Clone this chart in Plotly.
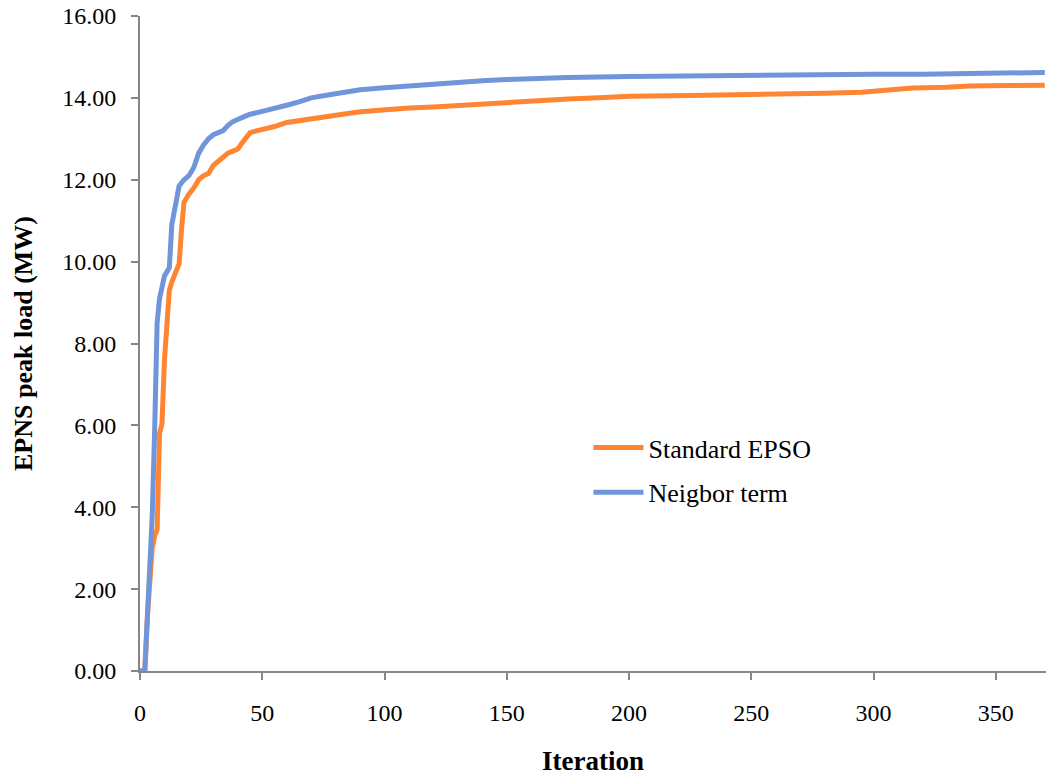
import plotly.graph_objects as go

# Data
iter_neighbor = [0, 1, 2, 3, 4, 5, 6, 7, 8, 9, 10, 11, 12, 13, 14, 15, 16, 18, 20, 22, 24, 26, 28, 30,
                 32, 34, 36, 38, 41, 45, 50, 55, 60, 65, 70, 75, 80, 85, 90, 100, 110, 120, 130, 140,
                 150, 160, 175, 200, 225, 250, 265, 280, 300, 320, 332, 340, 355, 370]
epns_neighbor = [0.0, 0.0, 0.05, 1.3, 2.6, 3.8, 5.9, 8.5, 9.1, 9.45, 9.65, 9.75, 9.85, 10.9, 11.2, 11.45,
                 11.85, 12.0, 12.1, 12.3, 12.65, 12.85, 13.0, 13.1, 13.15, 13.2, 13.33, 13.42, 13.5, 13.6,
                 13.67, 13.76, 13.82, 13.9, 14.0, 14.05, 14.1, 14.15, 14.2, 14.25, 14.3, 14.33, 14.37,
                 14.42, 14.45, 14.48, 14.5, 14.52, 14.54, 14.56, 14.57, 14.58, 14.58, 14.58, 14.59,
                 14.61, 14.61, 14.62]

iter_standard = [0, 1, 2, 3, 4, 5, 6, 7, 8, 9, 10, 11, 12, 13, 14, 15, 16, 17, 18, 20, 22, 24, 26, 28,
                 30, 33, 36, 38, 40, 42, 43, 45, 48, 50, 55, 60, 65, 70, 78, 85, 90, 100, 110, 120, 130,
                 140, 150, 160, 175, 190, 200, 225, 250, 265, 280, 295, 305, 316, 330, 339, 355, 370]
epns_standard = [0.0, 0.0, 0.02, 1.3, 2.4, 3.0, 3.3, 3.45, 5.8, 6.05, 7.6, 8.6, 9.3, 9.5, 9.65, 9.8,
                 9.95, 10.8, 11.45, 11.65, 11.8, 12.0, 12.1, 12.15, 12.35, 12.5, 12.65, 12.7, 12.75,
                 12.92, 13.0, 13.15, 13.2, 13.22, 13.3, 13.4, 13.45, 13.5, 13.55, 13.62, 13.66, 13.72,
                 13.75, 13.78, 13.82, 13.86, 13.9, 13.94, 13.97, 14.01, 14.04, 14.06, 14.07, 14.09,
                 14.11, 14.14, 14.19, 14.24, 14.26, 14.29, 14.3, 14.31]

x_ticks = [0, 50, 100, 150, 200, 250, 300, 350]
y_ticks = [0, 2, 4, 6, 8, 10, 12, 14, 16]
y_tick_labels = ["0.00", "2.00", "4.00", "6.00", "8.00", "10.00", "12.00", "14.00", "16.00"]

FONT = "Liberation Serif, Times New Roman, serif"
AXIS_COLOR = "#868686"

fig = go.Figure()
fig.add_trace(go.Scatter(x=iter_standard, y=epns_standard, mode="lines", name="Standard EPSO",
                         line=dict(color="#FF8533", width=5), legendgroup="a"))
fig.add_trace(go.Scatter(x=iter_neighbor, y=epns_neighbor, mode="lines", name="Neigbor term",
                         line=dict(color="#7095DA", width=5), legendgroup="b"))

fig.update_layout(
    width=1046, height=776,
    margin=dict(l=140, r=0, t=16, b=105),
    paper_bgcolor="white", plot_bgcolor="white",
    font=dict(family=FONT, color="black", size=24),
    showlegend=True,
    legend=dict(x=0.495, y=0.377, xanchor="left", yanchor="top",
                font=dict(size=26, family=FONT), bgcolor="rgba(0,0,0,0)",
                tracegroupgap=8, traceorder="grouped", itemwidth=50),
    xaxis=dict(range=[0, 370.5], tickvals=x_ticks, showgrid=False, zeroline=False,
               showline=True, linecolor=AXIS_COLOR, linewidth=2,
               ticks="outside", ticklen=7, tickwidth=2, tickcolor=AXIS_COLOR,
               tickfont=dict(size=24, family=FONT), ticklabelstandoff=12,
               title=dict(text="<b>Iteration</b>", font=dict(size=27, family=FONT), standoff=26)),
    yaxis=dict(range=[0, 16], tickvals=y_ticks, ticktext=y_tick_labels, showgrid=False,
               zeroline=False, showline=True, linecolor=AXIS_COLOR, linewidth=2,
               ticks="outside", ticklen=7, tickwidth=2, tickcolor=AXIS_COLOR,
               tickfont=dict(size=24, family=FONT), ticklabelstandoff=10,
               title=dict(text="<b>EPNS peak load (MW)</b>", font=dict(size=26, family=FONT), standoff=22)),
)

fig.write_html("out.html")
